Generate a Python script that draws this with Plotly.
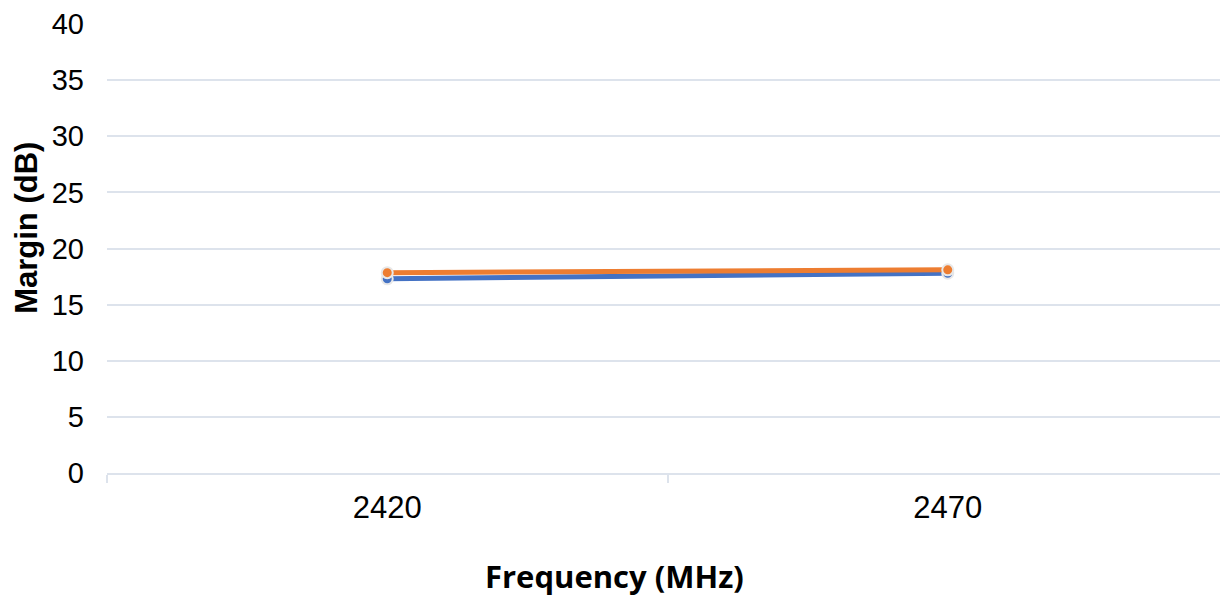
import plotly.graph_objects as go

freqs = ["2420", "2470"]
series_blue = [17.3, 17.8]
series_orange = [17.85, 18.1]
y_ticks = [0, 5, 10, 15, 20, 25, 30, 35, 40]

fig = go.Figure()
fig.add_trace(go.Scatter(x=freqs, y=series_blue, mode="lines+markers",
                         line=dict(color="#4472C4", width=5),
                         marker=dict(size=11, color="#4472C4", line=dict(color="#E8E8E8", width=2)),
                         showlegend=False))
fig.add_trace(go.Scatter(x=freqs, y=series_orange, mode="lines+markers",
                         line=dict(color="#ED7D31", width=5),
                         marker=dict(size=11, color="#ED7D31", line=dict(color="#E8E8E8", width=2)),
                         showlegend=False))

fig.update_layout(
    width=1220, height=589,
    margin=dict(l=99, r=0, t=16, b=124),
    plot_bgcolor="white", paper_bgcolor="white",
    font=dict(family="Arial, Liberation Sans", size=29, color="#000000"),
    xaxis=dict(type="category", range=[-0.5, 1.5], tickson="boundaries",
               showgrid=False, showline=True, linecolor="#DDE3EC", linewidth=1.5,
               ticks="outside", ticklen=8, tickcolor="#DDE3EC", tickwidth=1.5,
               ticklabelstandoff=6, tickfont=dict(size=31),
               automargin=False),
    yaxis=dict(range=[0, 40], tickvals=y_ticks, showgrid=True, gridcolor="#DDE3EC", gridwidth=1.5,
               zeroline=False, showline=False, ticks="", ticklabelstandoff=22,
               tickfont=dict(size=29),
               automargin=False),
    annotations=[
        dict(text="<b>Margin (dB)</b>", xref="paper", yref="paper", x=0, y=0.546,
             xshift=-80, xanchor="center", yanchor="middle", textangle=-90, showarrow=False,
             font=dict(family="Arial, Liberation Sans", size=31)),
        dict(text="<b>Frequency (MHz)</b>", xref="paper", yref="paper", x=0.453, y=0,
             yshift=-103, xanchor="center", yanchor="middle", showarrow=False,
             font=dict(family="Open Sans", size=31)),
    ],
)
fig.write_html("out.html")
